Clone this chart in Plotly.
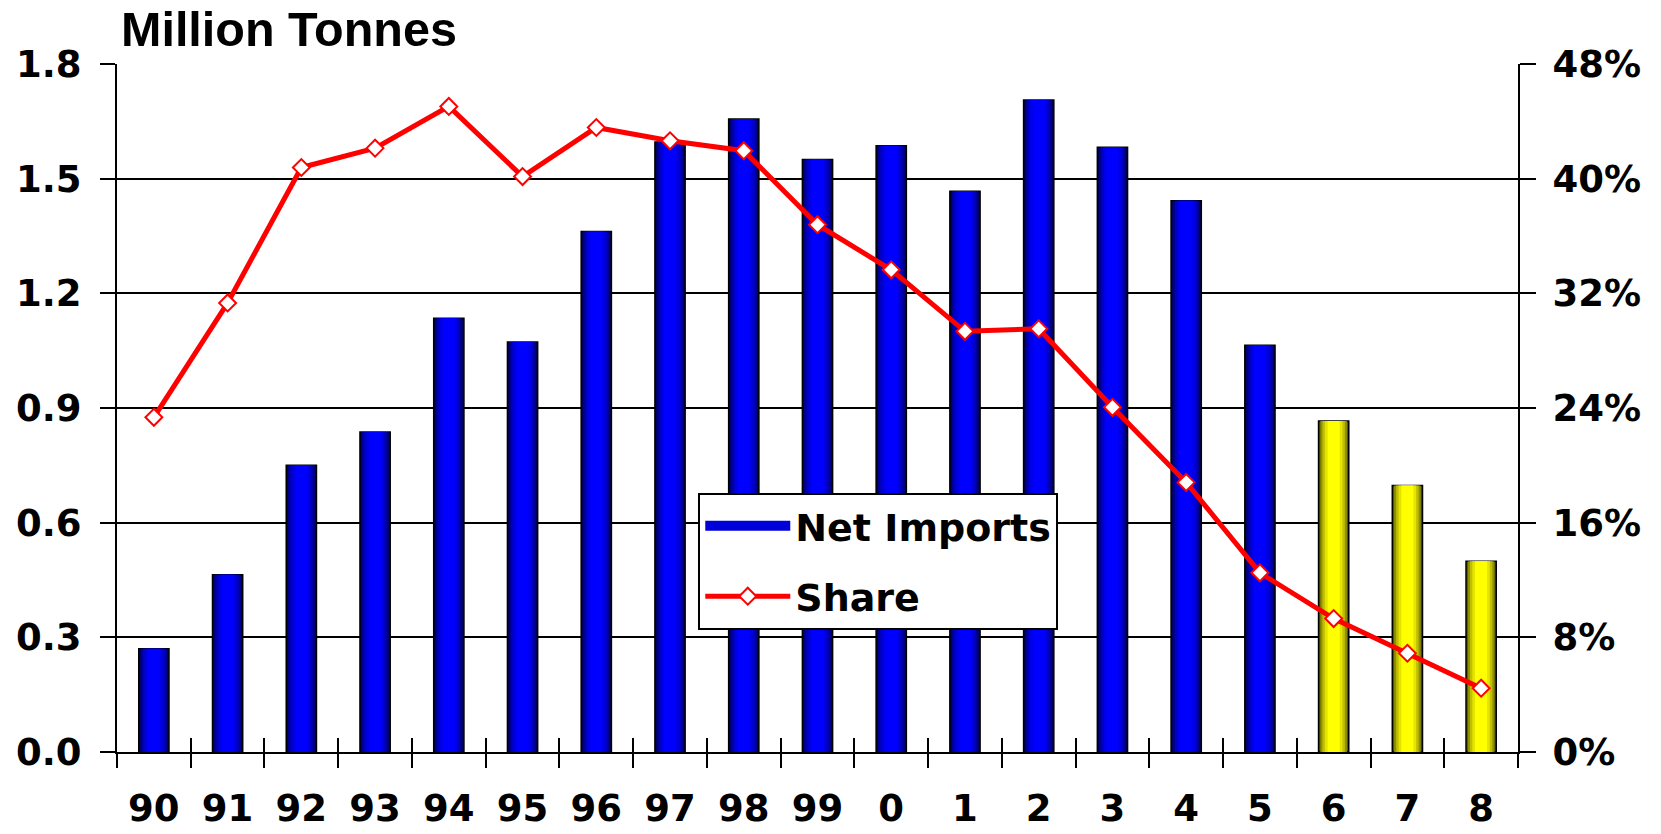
import plotly.graph_objects as go

# ---- data ----
years = ["90", "91", "92", "93", "94", "95", "96", "97", "98", "99",
         "0", "1", "2", "3", "4", "5", "6", "7", "8"]
net_imports = [0.27, 0.464, 0.750, 0.837, 1.135, 1.073, 1.362, 1.596, 1.656, 1.550,
               1.586, 1.467, 1.706, 1.582, 1.442, 1.064, 0.866, 0.697, 0.499]
share = [0.2335, 0.3133, 0.4078, 0.4213, 0.4504, 0.4015, 0.4357, 0.4264, 0.4195, 0.3679,
         0.3364, 0.2935, 0.2953, 0.2405, 0.1881, 0.1250, 0.0931, 0.0689, 0.0445]
is_forecast = [0, 0, 0, 0, 0, 0, 0, 0, 0, 0, 0, 0, 0, 0, 0, 0, 1, 1, 1]
left_ticks = [0.0, 0.3, 0.6, 0.9, 1.2, 1.5, 1.8]
right_ticks = [0.0, 0.08, 0.16, 0.24, 0.32, 0.40, 0.48]

# ---- styling ----
BAR_W = 0.41
# (relative width, blue shade, yellow shade) -> layered to fake the cylinder gradient
layers = [
    (1.00, "#00005a", "#555500"),
    (0.88, "#000090", "#909000"),
    (0.74, "#0000c0", "#c0c000"),
    (0.58, "#0000e4", "#e4e400"),
    (0.40, "#0000ff", "#ffff00"),
]
TICK_FONT = dict(family="DejaVu Sans", size=37, color="black", weight="bold")

fig = go.Figure()

for i, (frac, blue, yellow) in enumerate(layers):
    cols = [yellow if f else blue for f in is_forecast]
    fig.add_trace(go.Bar(
        x=years, y=net_imports,
        width=BAR_W * frac,
        name="Net Imports",
        legendgroup="a",
        showlegend=False,
        marker=dict(color=cols,
                    line=dict(color="black", width=1.5 if i == 0 else 0)),
        hoverinfo="skip",
        xaxis="x", yaxis="y",
    ))

# legend entry for the bars (wide blue swatch)
fig.add_trace(go.Scatter(
    x=[None], y=[None], name="Net Imports", legendgroup="a",
    mode="lines", line=dict(color="#0000d8", width=27),
    xaxis="x", yaxis="y", hoverinfo="skip",
))

fig.add_trace(go.Scatter(
    x=years, y=share,
    name="Share",
    legendgroup="b",
    mode="lines+markers",
    line=dict(color="#ff0000", width=5),
    marker=dict(symbol="diamond", size=13, color="white",
                line=dict(color="#ff0000", width=2)),
    xaxis="x2", yaxis="y2",
    hoverinfo="skip",
))

fig.update_layout(
    width=1661, height=834,
    margin=dict(l=117, r=143, t=64, b=82),
    paper_bgcolor="white", plot_bgcolor="white",
    barmode="overlay",
    showlegend=True,
    legend=dict(
        x=0.4149, y=0.377, xanchor="left", yanchor="top",
        bgcolor="white", bordercolor="black", borderwidth=2,
        font=dict(family="DejaVu Sans", size=38, color="black", weight="bold"),
        itemwidth=85,
        traceorder="grouped",
        tracegroupgap=18,
    ),
    xaxis=dict(
        type="category", categoryarray=years, categoryorder="array",
        range=[-0.5, len(years) - 0.5], automargin=False,
        tickson="boundaries", ticks="outside", ticklen=14, tickwidth=1.5, tickcolor="black",
        showline=True, linecolor="black", linewidth=2,
        showgrid=False, zeroline=False,
        tickfont=TICK_FONT, ticklabelstandoff=23,
    ),
    xaxis2=dict(
        type="category", categoryarray=years, categoryorder="array",
        range=[-0.5, len(years) - 0.5], automargin=False,
        overlaying="x", anchor="y", side="bottom",
        tickson="boundaries", ticks="inside", ticklen=14, tickwidth=1.5, tickcolor="black",
        showticklabels=False, showline=False, showgrid=False, zeroline=False,
    ),
    yaxis=dict(
        range=[0, 1.8], tickmode="array", tickvals=left_ticks,
        ticktext=[f"{v:.1f}" for v in left_ticks], automargin=False,
        ticks="outside", ticklen=15, tickwidth=1.5, tickcolor="black",
        showline=True, linecolor="black", linewidth=2,
        showgrid=True, gridcolor="black", gridwidth=1.5,
        zeroline=False,
        tickfont=TICK_FONT, ticklabelstandoff=11,
    ),
    yaxis2=dict(
        range=[0, 0.48], tickmode="array", tickvals=right_ticks,
        ticktext=[f"{v*100:.0f}%" for v in right_ticks], automargin=False,
        overlaying="y", side="right", anchor="x",
        ticks="outside", ticklen=16, tickwidth=1.5, tickcolor="black",
        showline=True, linecolor="black", linewidth=2,
        showgrid=False, zeroline=False,
        tickfont=TICK_FONT, ticklabelstandoff=9,
    ),
    annotations=[dict(
        text="Million Tonnes", xref="paper", yref="paper",
        x=0, y=1, xanchor="left", yanchor="bottom", xshift=2, yshift=6,
        showarrow=False,
        font=dict(family="Liberation Sans", size=48.5, color="black", weight="bold"),
    )],
)

fig.write_html(
    "out.html",
    config={"displayModeBar": False},
    post_script="document.body.style.margin='0';document.body.style.overflow='hidden';",
)
